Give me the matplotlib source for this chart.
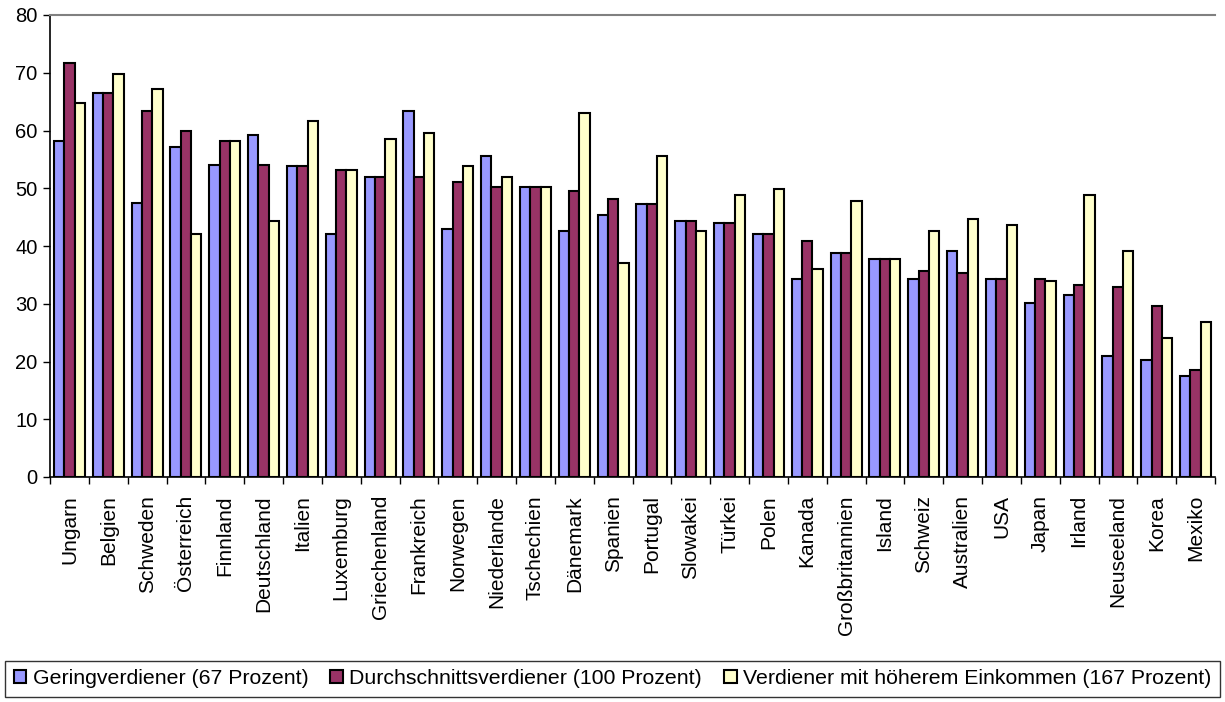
import matplotlib
matplotlib.use("Agg")
import matplotlib.pyplot as plt
import numpy as np

plt.rcParams['font.family'] = ['Liberation Sans', 'DejaVu Sans']

countries = ["Ungarn", "Belgien", "Schweden", "Österreich", "Finnland", "Deutschland",
             "Italien", "Luxemburg", "Griechenland", "Frankreich", "Norwegen", "Niederlande",
             "Tschechien", "Dänemark", "Spanien", "Portugal", "Slowakei", "Türkei", "Polen",
             "Kanada", "Großbritannien", "Island", "Schweiz", "Australien", "USA", "Japan",
             "Irland", "Neuseeland", "Korea", "Mexiko"]
gering = [58.2, 66.5, 47.5, 57.2, 54.1, 59.3, 53.8, 42.0, 52.0, 63.4, 43.0, 55.5,
          50.3, 42.6, 45.4, 47.2, 44.4, 44.0, 42.0, 34.2, 38.8, 37.8, 34.2, 39.2,
          34.2, 30.1, 31.5, 21.0, 20.3, 17.5]
durchschnitt = [71.7, 66.5, 63.4, 60.0, 58.2, 54.1, 53.8, 53.1, 52.0, 52.0, 51.0, 50.3,
                50.3, 49.6, 48.2, 47.2, 44.4, 44.0, 42.0, 40.9, 38.8, 37.8, 35.6, 35.3,
                34.2, 34.2, 33.2, 32.9, 29.6, 18.5]
hoeher = [64.8, 69.7, 67.2, 42.0, 58.2, 44.4, 61.7, 53.1, 58.6, 59.6, 53.8, 52.0,
          50.3, 63.1, 37.0, 55.5, 42.6, 48.9, 49.9, 36.0, 47.8, 37.8, 42.6, 44.7,
          43.7, 33.9, 48.9, 39.2, 24.1, 26.9]
series_labels = ["Geringverdiener (67 Prozent)", "Durchschnittsverdiener (100 Prozent)",
                 "Verdiener mit höherem Einkommen (167 Prozent)"]
colors = ["#9999FF", "#993366", "#FFFFCC"]

fig = plt.figure(figsize=(12.25, 7.02), dpi=100)
ax = fig.add_axes([50/1225, 1 - 477/702, 1165/1225, 462/702])

x = np.arange(len(countries))
w = 0.267
for i, (vals, lab, c) in enumerate(zip([gering, durchschnitt, hoeher], series_labels, colors)):
    ax.bar(x + (i - 1) * w, vals, width=w, color=c, edgecolor="black", linewidth=1.5,
           label=lab, zorder=3)

ax.set_xlim(-0.5, len(countries) - 0.5)
ax.set_ylim(0, 80)
ax.set_yticks(range(0, 81, 10))
ax.tick_params(axis='y', labelsize=14.5, length=5, width=1, direction='out', pad=4)
ax.set_xticks(x)
ax.set_xticklabels(countries, rotation=90, fontsize=15)
ax.tick_params(axis='x', length=0, pad=13)
ax.set_xticks(np.arange(-0.5, len(countries) + 0.5, 1), minor=True)
ax.tick_params(axis='x', which='minor', length=5, width=1, direction='out')

for s in ['left', 'bottom']:
    ax.spines[s].set_color('black')
    ax.spines[s].set_linewidth(1.2)
ax.spines['top'].set_color('#808080')
ax.spines['top'].set_linewidth(1.5)
ax.spines['right'].set_visible(False)

leg = fig.legend(loc='center', bbox_to_anchor=(5/1225, 1 - 695/702, 1215/1225, 33/702),
                 mode='expand', ncol=3, fontsize=15.3,
                 frameon=True, fancybox=False, edgecolor='black', handlelength=0.6,
                 handleheight=0.6, handletextpad=0.3, columnspacing=0.45,
                 borderpad=0.4, borderaxespad=0)
leg.get_frame().set_linewidth(1.0)

fig.savefig("out.png", dpi=100)
